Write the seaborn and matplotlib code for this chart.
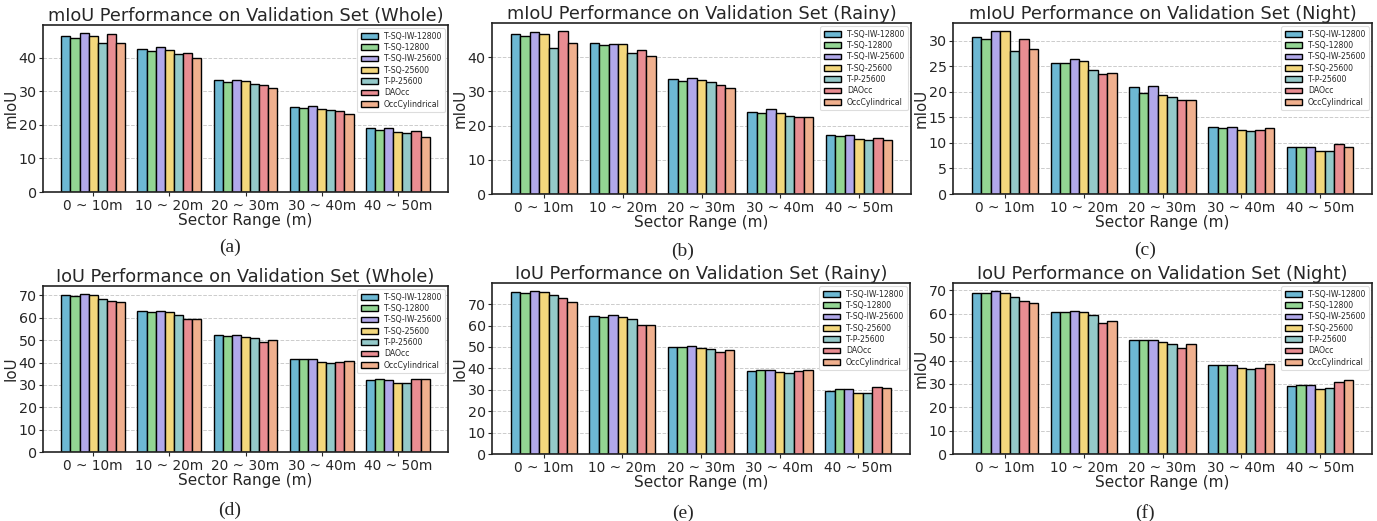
import matplotlib
matplotlib.use("Agg")
import matplotlib.pyplot as plt
from matplotlib.ticker import MultipleLocator
import seaborn as sns
import pandas as pd

sns.set_style("white")
plt.rcParams['font.family'] = ['DejaVu Sans']

categories = ["0 ~ 10m", "10 ~ 20m", "20 ~ 30m", "30 ~ 40m", "40 ~ 50m"]
methods = ["T-SQ-IW-12800", "T-SQ-12800", "T-SQ-IW-25600", "T-SQ-25600",
           "T-P-25600", "DAOcc", "OccCylindrical"]
colors = ['#6db8d3', '#93d593', '#b1a8ea', '#f3d77c', '#94c9c9', '#e98d92', '#f0b08e']

# values per method, listed over the five sector ranges
miou_whole = {
    "T-SQ-IW-12800": [46.5, 42.6, 33.3, 25.3, 19.0],
    "T-SQ-12800":    [45.9, 42.1, 32.7, 25.0, 18.4],
    "T-SQ-IW-25600": [47.4, 43.1, 33.5, 25.5, 19.0],
    "T-SQ-25600":    [46.5, 42.4, 33.0, 24.8, 18.0],
    "T-P-25600":     [44.5, 41.1, 32.3, 24.3, 17.6],
    "DAOcc":         [47.1, 41.5, 31.8, 24.2, 18.3],
    "OccCylindrical":[44.5, 40.0, 31.0, 23.1, 16.5],
}
miou_rainy = {
    "T-SQ-IW-12800": [46.8, 44.2, 33.7, 24.1, 17.3],
    "T-SQ-12800":    [46.2, 43.5, 33.1, 23.8, 16.9],
    "T-SQ-IW-25600": [47.3, 43.7, 33.8, 24.7, 17.1],
    "T-SQ-25600":    [46.8, 43.9, 33.4, 23.7, 16.2],
    "T-P-25600":     [42.7, 41.1, 32.7, 22.9, 15.8],
    "DAOcc":         [47.6, 42.2, 31.9, 22.6, 16.3],
    "OccCylindrical":[44.2, 40.4, 31.1, 22.6, 15.9],
}
miou_night = {
    "T-SQ-IW-12800": [30.7, 25.6, 21.0, 13.1, 9.2],
    "T-SQ-12800":    [30.3, 25.6, 19.7, 12.9, 9.2],
    "T-SQ-IW-25600": [31.9, 26.4, 21.1, 13.1, 9.3],
    "T-SQ-25600":    [31.9, 26.0, 19.4, 12.5, 8.5],
    "T-P-25600":     [28.1, 24.3, 19.0, 12.3, 8.5],
    "DAOcc":         [30.4, 23.6, 18.4, 12.6, 9.7],
    "OccCylindrical":[28.5, 23.7, 18.5, 13.0, 9.2],
}
iou_whole = {
    "T-SQ-IW-12800": [70.3, 62.9, 52.1, 41.4, 32.0],
    "T-SQ-12800":    [69.9, 62.4, 51.8, 41.4, 32.5],
    "T-SQ-IW-25600": [70.7, 63.2, 52.1, 41.4, 32.3],
    "T-SQ-25600":    [70.0, 62.6, 51.4, 40.4, 31.0],
    "T-P-25600":     [68.2, 61.4, 50.8, 39.9, 30.8],
    "DAOcc":         [67.6, 59.3, 49.2, 40.2, 32.8],
    "OccCylindrical":[67.2, 59.6, 50.2, 40.8, 32.6],
}
iou_rainy = {
    "T-SQ-IW-12800": [75.5, 64.4, 50.2, 39.0, 29.5],
    "T-SQ-12800":    [75.1, 63.9, 49.9, 39.3, 30.2],
    "T-SQ-IW-25600": [76.1, 64.9, 50.5, 39.4, 30.2],
    "T-SQ-25600":    [75.5, 64.2, 49.7, 38.4, 28.7],
    "T-P-25600":     [74.1, 63.0, 49.1, 37.9, 28.5],
    "DAOcc":         [72.8, 60.3, 47.7, 39.0, 31.2],
    "OccCylindrical":[70.9, 60.3, 48.6, 39.3, 30.7],
}
iou_night = {
    "T-SQ-IW-12800": [69.1, 60.9, 48.9, 38.1, 29.3],
    "T-SQ-12800":    [68.9, 60.9, 48.6, 38.1, 29.6],
    "T-SQ-IW-25600": [69.7, 61.3, 48.9, 38.1, 29.6],
    "T-SQ-25600":    [69.1, 60.7, 47.9, 36.6, 27.7],
    "T-P-25600":     [67.0, 59.3, 47.1, 36.3, 28.1],
    "DAOcc":         [65.3, 56.1, 45.4, 37.0, 30.7],
    "OccCylindrical":[64.6, 57.0, 46.9, 38.6, 31.6],
}

titles = ["mIoU Performance on Validation Set (Whole)",
          "mIoU Performance on Validation Set (Rainy)",
          "mIoU Performance on Validation Set (Night)",
          "IoU Performance on Validation Set (Whole)",
          "IoU Performance on Validation Set (Rainy)",
          "IoU Performance on Validation Set (Night)"]
ylabels = ["mIoU", "mIoU", "mIoU", "IoU", "IoU", "mIoU"]
captions = ["(a)", "(b)", "(c)", "(d)", "(e)", "(f)"]
ysteps = [10, 10, 5, 10, 10, 10]
datasets = [miou_whole, miou_rainy, miou_night, iou_whole, iou_rainy, iou_night]

W, H = 1377, 521
fig = plt.figure(figsize=(W / 100, H / 100), dpi=100)

# axes boxes in pixels: left, right, top, bottom
boxes = [(43, 448, 25, 192), (492, 911, 23, 194), (953, 1372, 23, 194),
         (43, 448, 286, 452), (492, 910, 283, 454), (953, 1372, 283, 454)]
cap_pos = [(230, 247), (683, 251), (1145, 250), (230, 510), (683, 513), (1145, 513)]

for i, data in enumerate(datasets):
    l, r, t, b = boxes[i]
    ax = fig.add_axes([l / W, 1 - b / H, (r - l) / W, (b - t) / H])
    rows = []
    for m in methods:
        for c, v in zip(categories, data[m]):
            rows.append({"Sector": c, "Method": m, "Value": v})
    df = pd.DataFrame(rows)
    sns.barplot(data=df, x="Sector", y="Value", hue="Method",
                hue_order=methods, order=categories, palette=colors,
                width=0.84, edgecolor="black", linewidth=1.0,
                saturation=1, ax=ax, legend=True)
    ax.set_xlim(-0.66, 4.66)
    ymax = max(max(v) for v in data.values())
    ax.set_ylim(0, ymax * 1.05)
    ax.yaxis.set_major_locator(MultipleLocator(ysteps[i]))
    ax.set_axisbelow(True)
    ax.yaxis.grid(True, linestyle="--", color="#cccccc", linewidth=0.7)
    ax.xaxis.grid(False)
    for s in ax.spines.values():
        s.set_color("#222222")
        s.set_linewidth(1.2)
    ax.tick_params(axis="x", labelsize=9.8, length=3, width=0.8, pad=2, bottom=True)
    ax.tick_params(axis="y", labelsize=10.3, length=3, width=0.8, pad=1.5, left=True)
    ax.set_title(titles[i], fontsize=12.8, pad=3)
    ax.set_xlabel("Sector Range (m)", fontsize=11, labelpad=0)
    ax.set_ylabel(ylabels[i], fontsize=10.8, labelpad=0)
    leg = ax.legend(loc="upper right", fontsize=5.6, frameon=True,
                    handlelength=2.2, handleheight=0.7, labelspacing=0.3,
                    borderpad=0.45, fancybox=True, borderaxespad=0.4)
    leg.get_frame().set_edgecolor("#dddddd")
    leg.get_frame().set_linewidth(0.8)
    leg.get_frame().set_alpha(1)
    cx, cy = cap_pos[i]
    fig.text(cx / W, 1 - cy / H, captions[i], ha="center", va="center",
             fontsize=14, family="Liberation Serif")

fig.savefig("out.png", dpi=100)
